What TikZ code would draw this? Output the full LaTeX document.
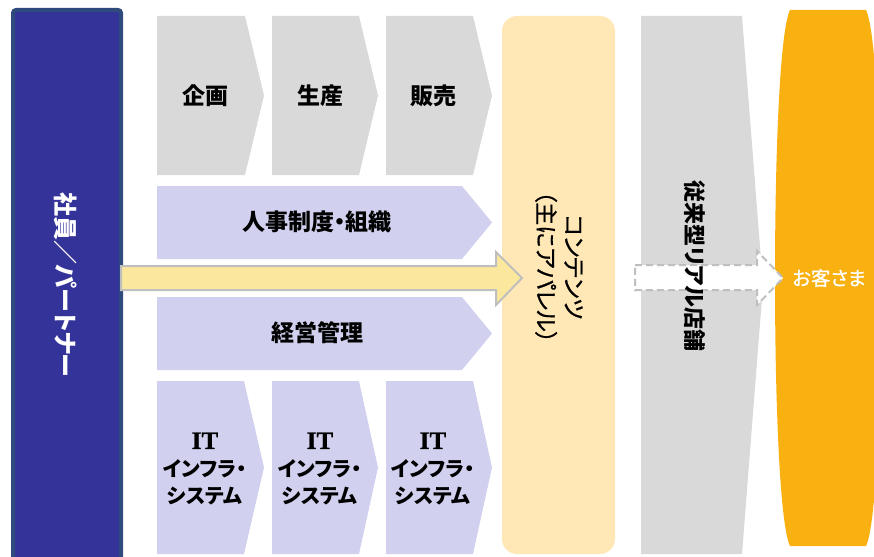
\documentclass[tikz,border=0pt]{standalone}
\usepackage{fontspec}
\setmainfont{Noto Sans CJK JP}[RawFeature=+palt]
\newfontfamily\medfont{Noto Sans CJK JP}[RawFeature=+palt, FakeBold=0.8]
\newfontfamily\itfont{Liberation Serif}[FakeBold=1.2]
\definecolor{barblue}{HTML}{333399}
\definecolor{barborder}{HTML}{2F4A7C}
\definecolor{boxgray}{HTML}{D9D9D9}
\definecolor{boxlav}{HTML}{D1D1EF}
\definecolor{arrowyellow}{HTML}{FCE89C}
\definecolor{arrowedge}{HTML}{BFBFBF}
\definecolor{contentfill}{HTML}{FFE8B6}
\definecolor{custorange}{HTML}{F9B111}
\newcommand\mypent[6]{\fill[#1] (#2,#3) -- (#4,#3) -- (#5,{(#3+#6)/2}) -- (#4,#6) -- (#2,#6) -- cycle;}
\newcommand\itword{{\itfont\fontsize{25}{27.5}\selectfont IT}}
\begin{document}
\begin{tikzpicture}[x=1pt,y=-1pt,
  lbl/.style={font=\fontsize{23}{26}\selectfont\bfseries, text=black, inner sep=0pt},
  itlbl/.style={font=\fontsize{20.5}{27.5}\selectfont\bfseries, text=black, align=center, inner sep=0pt},
  vlbl/.style={rotate=-90, inner sep=0pt, align=center}]
\useasboundingbox (0,0) rectangle (874,556);
\clip (0,0) rectangle (874,556);
% left bar
\draw[fill=barblue, draw=barborder, line width=4pt, rounded corners=3pt] (13,10) rectangle (121,575);
\node[vlbl, text=white, font=\fontsize{24}{26}\selectfont\bfseries] (staff) at (66,285) {社員／パートナー};
% top row
\mypent{boxgray}{157}{16}{245}{264}{175}
\mypent{boxgray}{272}{16}{359}{378}{175}
\mypent{boxgray}{386}{16}{473}{492}{175}
\node[lbl] (plan) at (205,96) {企画};
\node[lbl] (prod) at (320,96) {生産};
\node[lbl] (sales) at (433,96) {販売};
% middle rows
\mypent{boxlav}{157}{186}{462}{492}{259}
\mypent{boxlav}{157}{297}{462}{492}{370}
\node[lbl] (hr) at (317,222) {人事制度・組織};
\node[lbl] (mgmt) at (317,333) {経営管理};
% IT row
\mypent{boxlav}{157}{381}{244}{264}{554}
\mypent{boxlav}{272}{381}{359}{378}{554}
\mypent{boxlav}{386}{381}{473}{492}{554}
\node[itlbl] (it1) at (205,469) {\itword\\インフラ・\\システム};
\node[itlbl] (it2) at (320,469) {\itword\\インフラ・\\システム};
\node[itlbl] (it3) at (433,469) {\itword\\インフラ・\\システム};
% contents box
\fill[contentfill, rounded corners=15pt] (502,16) rectangle (615,554);
\node[vlbl, font=\medfont\fontsize{23}{28}\selectfont] (contents) at (559,267) {コンテンツ\\（主にアパレル）};
% yellow arrow
\draw[fill=arrowyellow, draw=arrowedge, line width=2pt, line join=miter]
  (121,266) -- (496,266) -- (496,252) -- (522,278) -- (496,305) -- (496,290) -- (121,290) -- cycle;
% conventional stores
\fill[boxgray] (641,16) -- (742,16) -- (763,285) -- (742,554) -- (641,554) -- cycle;
% customers
\fill[custorange] (790,10) .. controls (780,30) and (775,150) .. (775,278)
  .. controls (775,406) and (780,526) .. (790,546) -- (866,546)
  .. controls (876,526) and (881,406) .. (881,278)
  .. controls (881,150) and (876,30) .. (866,10) -- cycle;
% dashed arrow
\draw[fill=white, draw=arrowedge, line width=2pt, dash pattern=on 7pt off 4pt]
  (635,265) -- (757,265) -- (757,251) -- (783,278) -- (757,305) -- (757,290) -- (635,290) -- cycle;
\node[vlbl, font=\fontsize{22}{24}\selectfont\bfseries] (store) at (695,266) {従来型リアル店舗};
\node[text=white, font=\medfont\fontsize{19.5}{22}\selectfont, inner sep=0pt] (cust) at (829,278) {お客さま};
\end{tikzpicture}
\end{document}
